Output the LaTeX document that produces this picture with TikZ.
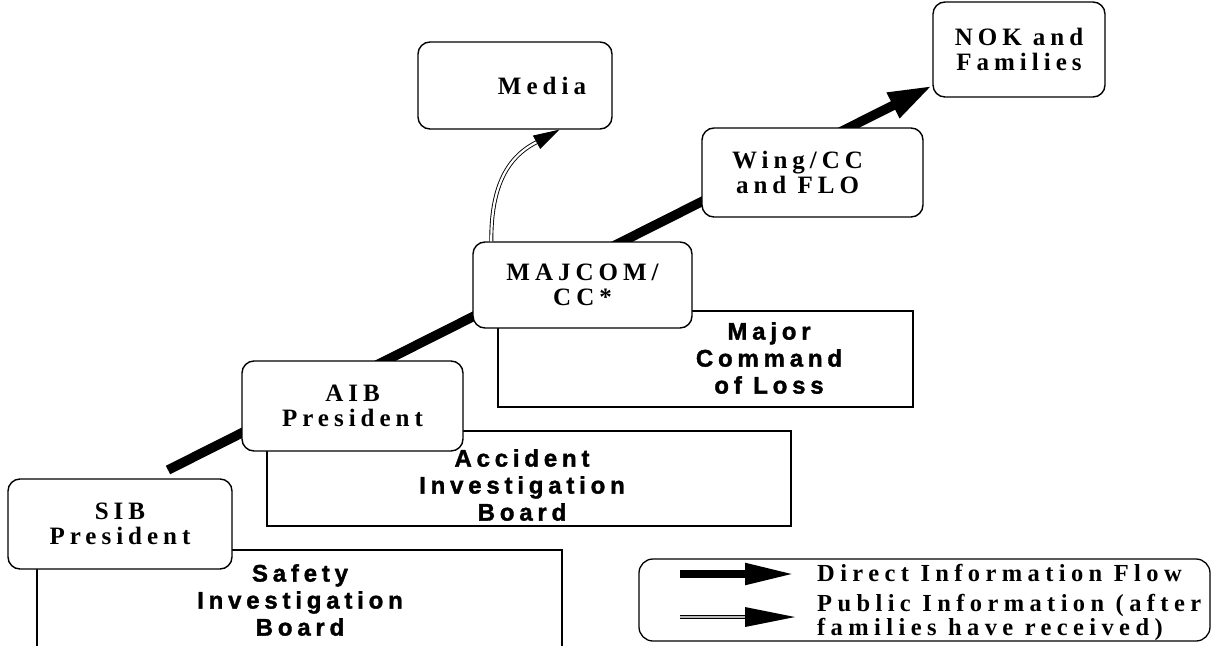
\documentclass[tikz,border=0pt]{standalone}
\usepackage{fontspec}
\setmainfont{Liberation Serif}
\newfontfamily\lblfont{Liberation Serif}[UprightFont={* Bold}, LetterSpace=20]
\newfontfamily\legfont{Liberation Serif}[UprightFont={* Bold}, LetterSpace=22]
\newfontfamily\brdfont{Liberation Sans}[UprightFont={* Bold}, LetterSpace=20, FakeBold=1.5]
\usetikzlibrary{arrows.meta}
\tikzset{
  lblbox/.style={draw, line width=1.4pt, rounded corners=12pt, fill=white,
    inner sep=0pt, align=center,
    font=\lblfont\fontsize{25}{25}\selectfont},
  brdbox/.style={draw, line width=1.3pt, fill=white, inner sep=0pt},
  brdtext/.style={align=center, inner sep=0pt,
    font=\brdfont\fontsize{24}{27}\selectfont},
  legtext/.style={align=left, inner sep=0pt, anchor=west,
    font=\legfont\fontsize{24.5}{24}\selectfont},
  flow/.style={line width=9.5pt, -{Triangle[length=44pt,width=26pt]}},
  publine/.style={draw=black, line width=0.9pt, double=white, double distance=2.2pt},
}
\begin{document}
\begin{tikzpicture}[x=1pt,y=-1pt]
\useasboundingbox (0,0) rectangle (1215,645);

% board rectangles
\node[brdbox, minimum width=415pt, minimum height=96pt] (mcl) at (705.5,359) {};
\node[brdtext] (mcltext) at (769,358) {Major\\Command\\of Loss};
\node[brdbox, minimum width=524pt, minimum height=95pt] (aibd) at (529,478.5) {};
\node[brdtext] (aibdtext) at (522,485) {Accident\\Investigation\\Board};
\draw[line width=1.3pt] (37,650) -- (37,550) coordinate (sibdtl) -- (562,550) -- (562,650);
\node[brdtext] (sibdtext) at (300,600) {Safety\\Investigation\\Board};

% flow line
\coordinate (flowstart) at (168,470);

% label boxes
\node[lblbox, minimum width=172pt, minimum height=95pt] (nok) at (1019,49.5) {NOK and\\Families};
\draw[flow] (flowstart) -- ([yshift=12pt]nok.south west);

\node[lblbox, minimum width=194pt, minimum height=87pt] (media) at (515,85.5) {\hspace*{54pt}Media};
\node[lblbox, minimum width=221pt, minimum height=89pt] (wing) at (812.5,172.5) {Wing/CC\hspace*{30pt}\\and FLO\hspace*{30pt}};
\node[lblbox, minimum width=219pt, minimum height=86pt] (maj) at (582.5,285) {MAJCOM/\\CC*};
\node[lblbox, minimum width=221pt, minimum height=90pt] (aib) at (352.5,406) {AIB\\President};
\node[lblbox, minimum width=224pt, minimum height=90pt] (sib) at (120,524) {SIB\\President};

% public information curve
\coordinate (pstart) at ([xshift=19pt]maj.north west);
\coordinate (mtip) at ([xshift=142pt]media.south west);
\coordinate (mbase) at (537,142);
\draw[publine] (pstart) .. controls (491,190) and (505,158) .. (mbase);
\draw[line width=0.8pt, -{Triangle[length=26pt,width=15pt]}] (mbase) -- (mtip);

% legend
\node[draw, line width=1.3pt, rounded corners=14pt, minimum width=571pt, minimum height=82pt, inner sep=0pt] (legend) at (924.5,600) {};
\coordinate (l1s) at (680,574);
\coordinate (l1e) at (795,574);
\draw[line width=8pt, -{Triangle[length=50pt,width=20pt]}] (l1s) -- (l1e);
\coordinate (l2s) at (680,617);
\coordinate (l2b) at (745,617);
\coordinate (l2e) at (795,617);
\draw[draw=black, line width=0.9pt, double=gray!55, double distance=2.4pt] (l2s) -- (l2b);
\fill (l2e) -- ([yshift=10pt]l2b) -- ([yshift=-10pt]l2b) -- cycle;
\node[legtext] (leg1) at (817,573) {Direct Information Flow};
\node[legtext] (leg2) at (817,617) {Public Information (after\\families have received)};
\end{tikzpicture}
\end{document}
